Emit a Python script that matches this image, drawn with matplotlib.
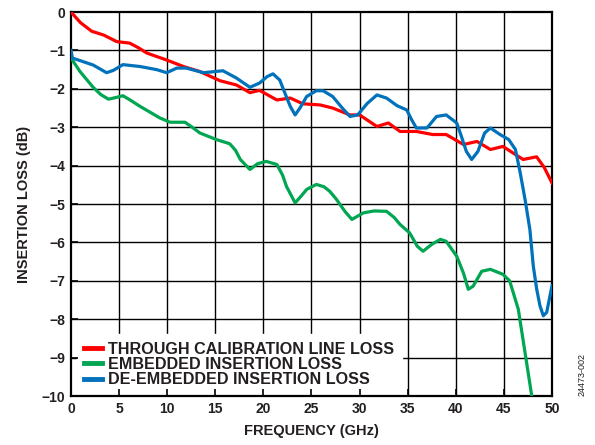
import matplotlib.pyplot as plt

plt.rcParams['font.family'] = ['Liberation Sans', 'DejaVu Sans']
plt.rcParams['font.weight'] = 'bold'
plt.rcParams['axes.labelweight'] = 'bold'

TXT = '#231f20'

# through calibration line loss (red)
thru_x = [0, 1.0, 2.15, 3.4, 4.75, 6.1, 7.0, 7.9, 9.95, 11.7, 13.4, 15.5, 17.2,
          18.6, 19.6, 21.4, 22.8, 24.1, 25.9, 27.2, 29.0, 30.0, 31.8, 33.0,
          34.2, 35.9, 37.6, 39.0, 40.8, 42.2, 43.6, 44.9, 47.0, 48.4, 49.2, 50.0]
thru_y = [0, -0.28, -0.5, -0.6, -0.77, -0.81, -0.93, -1.07, -1.25, -1.42, -1.55,
          -1.79, -1.9, -2.1, -2.04, -2.29, -2.24, -2.39, -2.42, -2.5, -2.68,
          -2.68, -2.98, -2.89, -3.11, -3.11, -3.19, -3.19, -3.45, -3.37, -3.58,
          -3.5, -3.84, -3.77, -4.05, -4.45]

# embedded insertion loss (green)
emb_x = [0, 0.94, 2.3, 3.1, 3.9, 4.6, 5.4, 6.2, 7.2, 9.25, 10.3, 11.85, 12.6,
         13.4, 15.1, 16.5, 17.1, 17.6, 18.6, 19.4, 20.3, 21.4, 22.0, 22.4, 23.3,
         23.9, 24.5, 25.5, 26.3, 26.9, 27.6, 28.5, 29.2, 30.4, 31.5, 32.8, 33.6,
         34.2, 35.2, 36.0, 36.6, 37.5, 38.4, 39.0, 40.1, 40.8, 41.3, 41.8, 42.7,
         43.6, 44.9, 45.6, 46.5, 47.2, 47.9, 48.3]
emb_y = [-1.2, -1.55, -1.96, -2.15, -2.27, -2.23, -2.18, -2.3, -2.46, -2.76,
         -2.87, -2.87, -3.0, -3.15, -3.32, -3.43, -3.6, -3.84, -4.1, -3.95,
         -3.89, -3.97, -4.25, -4.54, -4.97, -4.8, -4.62, -4.49, -4.55, -4.67,
         -4.88, -5.2, -5.4, -5.23, -5.18, -5.19, -5.35, -5.53, -5.75, -6.1, -6.23,
         -6.05, -5.92, -5.97, -6.36, -6.8, -7.22, -7.14, -6.75, -6.7, -6.83, -7.0,
         -7.74, -8.87, -10.0, -10.8]

# de-embedded insertion loss (blue)
deemb_x = [0, 0.15, 1.0, 2.3, 3.7, 4.4, 5.4, 7.2, 8.9, 9.95, 11.0, 12.0, 13.75,
           15.8, 17.2, 18.6, 19.6, 20.4, 21.0, 21.7, 22.3, 22.8, 23.3, 23.8,
           24.5, 25.5, 26.2, 27.2, 28.2, 29.0, 29.8, 30.8, 31.8, 32.8, 33.9,
           34.9, 35.4, 35.9, 37.0, 38.0, 39.0, 40.1, 40.6, 41.1, 41.65, 42.3,
           43.0, 43.6, 44.6, 45.5, 46.2, 46.7, 47.2, 47.7, 48.06, 48.4, 48.75,
           49.1, 49.45, 50.0]
deemb_y = [-1.0, -1.2, -1.27, -1.38, -1.58, -1.52, -1.37, -1.42, -1.5, -1.58,
           -1.46, -1.46, -1.58, -1.53, -1.72, -1.96, -1.85, -1.68, -1.61, -1.77,
           -2.15, -2.46, -2.68, -2.5, -2.2, -2.05, -2.05, -2.2, -2.5, -2.72,
           -2.68, -2.38, -2.16, -2.24, -2.44, -2.55, -2.8, -3.02, -3.02, -2.72,
           -2.68, -2.89, -3.25, -3.63, -3.84, -3.63, -3.15, -3.02, -3.19, -3.32,
           -3.58, -4.19, -4.88, -5.66, -6.62, -7.2, -7.65, -7.91, -7.82, -7.13]

labels = ['THROUGH CALIBRATION LINE LOSS', 'EMBEDDED INSERTION LOSS',
          'DE-EMBEDDED INSERTION LOSS']
colors = ['#ff0000', '#00a651', '#0072bc']

xticks = list(range(0, 51, 5))
yticks = list(range(-10, 1))

fig = plt.figure(figsize=(5.95, 4.45), dpi=100)
ax = fig.add_axes([0.1193, 0.110, 0.8084, 0.863])

for v in xticks[1:-1]:
    ax.axvline(v, color='black', lw=1.0, zorder=1)
for v in yticks[1:-1]:
    ax.axhline(v, color='black', lw=1.0, zorder=1)

ax.plot(thru_x, thru_y, color=colors[0], lw=2.3, label=labels[0], zorder=3)
ax.plot(emb_x, emb_y, color=colors[1], lw=2.3, label=labels[1], zorder=3)
ax.plot(deemb_x, deemb_y, color=colors[2], lw=2.3, label=labels[2], zorder=3)

ax.set_xlim(0, 50)
ax.set_ylim(-10, 0)
ax.set_xticks(xticks)
ax.set_yticks(yticks)
ax.tick_params(direction='in', length=5, width=1.2, colors='black',
               labelcolor=TXT, labelsize=10, pad=4)
for lab in ax.get_xticklabels() + ax.get_yticklabels():
    lab.set_fontweight('bold')
ax.set_axisbelow(False)
for s in ax.spines.values():
    s.set_linewidth(1.6)
    s.set_color('black')

ax.set_xlabel('FREQUENCY (GHz)', fontsize=10.5, fontweight='bold',
              color=TXT, labelpad=6)
ax.set_ylabel('INSERTION LOSS (dB)', fontsize=10.5, fontweight='bold',
              color=TXT, labelpad=8)

leg = ax.legend(loc='lower left', bbox_to_anchor=(0.012, 0.004),
                borderaxespad=0, frameon=True, fancybox=False,
                edgecolor='white', facecolor='white', framealpha=1,
                prop={'size': 11.6, 'weight': 'bold'},
                handlelength=1.1, handletextpad=0.4,
                labelspacing=0.02, borderpad=0.45)
for h in leg.get_lines():
    h.set_linewidth(3.5)
for t in leg.get_texts():
    t.set_color(TXT)
leg.set_zorder(2)

fig.text(0.978, 0.11, '24473-002', rotation=90, fontsize=6.5,
         fontweight='normal', color=TXT, ha='center', va='bottom')

fig.savefig('out.png', dpi=100)
